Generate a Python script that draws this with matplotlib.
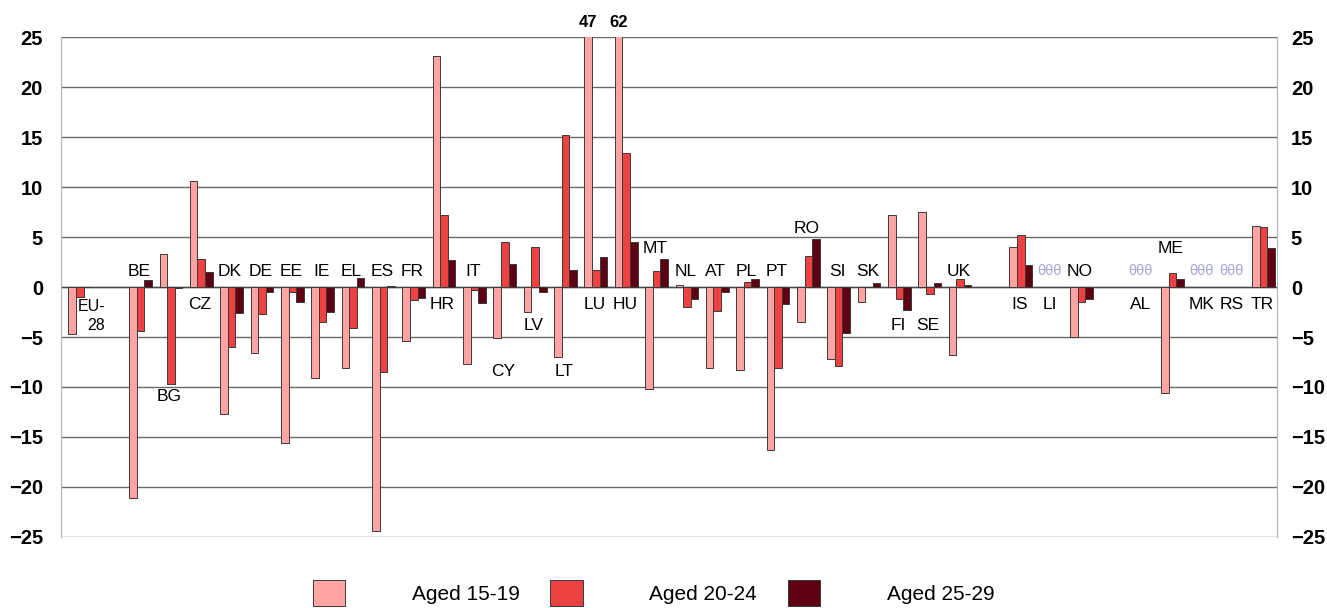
import numpy as np
import matplotlib
matplotlib.use("Agg")
import matplotlib.pyplot as plt
from matplotlib.patches import Patch

plt.rcParams['font.family'] = ['Liberation Sans', 'DejaVu Sans']

# slot index for each country (gaps at 1, 30, 34)
countries = ["EU-\n28", "BE", "BG", "CZ", "DK", "DE", "EE", "IE", "EL", "ES", "FR",
             "HR", "IT", "CY", "LV", "LT", "LU", "HU", "MT", "NL", "AT", "PL", "PT",
             "RO", "SI", "SK", "FI", "SE", "UK", "IS", "LI", "NO", "AL", "ME", "MK",
             "RS", "TR"]
slots = [0, 2, 3, 4, 5, 6, 7, 8, 9, 10, 11, 12, 13, 14, 15, 16, 17, 18, 19, 20, 21,
         22, 23, 24, 25, 26, 27, 28, 29, 31, 32, 33, 35, 36, 37, 38, 39]

nan = np.nan
aged_15_19 = [-4.7, -21.1, 3.3, 10.6, -12.7, -6.6, -15.6, -9.1, -8.1, -24.4, -5.4,
              23.1, -7.7, -5.1, -2.5, -7.0, 47, 62, -10.2, 0.2, -8.1, -8.3, -16.3,
              -3.5, -7.2, -1.5, 7.2, 7.5, -6.8, 4.0, nan, -5.0, nan, -10.6, nan,
              nan, 6.1]
aged_20_24 = [-1.0, -4.4, -9.7, 2.8, -6.0, -2.7, -0.5, -3.5, -4.1, -8.5, -1.3,
              7.2, -0.3, 4.5, 4.0, 15.2, 1.7, 13.4, 1.6, -2.0, -2.4, 0.5, -8.1,
              3.1, -7.9, 0.0, -1.2, -0.7, 0.8, 5.2, nan, -1.5, nan, 1.4, nan,
              nan, 6.0]
aged_25_29 = [0.0, 0.7, -0.1, 1.5, -2.6, -0.5, -1.5, -2.5, 0.9, 0.1, -1.1,
              2.7, -1.6, 2.3, -0.5, 1.7, 3.0, 4.5, 2.8, -1.2, -0.5, 0.8, -1.7,
              4.8, -4.6, 0.4, -2.3, 0.4, 0.2, 2.2, nan, -1.2, nan, 0.8, nan,
              nan, 3.9]

# where each country label sits (y in data units)
label_y = [-3.0, 1.6, -11.0, -1.7, 1.6, 1.6, 1.6, 1.6, 1.6, 1.6, 1.6,
           -1.7, 1.6, -8.5, -3.8, -8.5, -1.7, -1.7, 3.9, 1.6, 1.6, 1.6, 1.6,
           5.9, 1.6, 1.6, -3.85, -3.85, 1.6, -1.7, -1.7, 1.6, -1.7, 3.9, -1.7,
           -1.7, -1.7]
missing = ["LI", "AL", "MK", "RS"]

colors = ["#FFA3A3", "#EE4242", "#5E0012"]
series = [aged_15_19, aged_20_24, aged_25_29]
names = ["Aged 15-19", "Aged 20-24", "Aged 25-29"]

fig = plt.figure(figsize=(13.27, 6.08), dpi=100)
ax = fig.add_axes([0.046, 0.1168, 0.9163, 0.8223])

x = np.array(slots, dtype=float)
w = 0.25
for k, (vals, c) in enumerate(zip(series, colors)):
    ax.bar(x + (k - 1) * w, vals, width=w, color=c, edgecolor="#3a3a3a",
           linewidth=0.7, zorder=3)

ax.set_xlim(-0.62, 39.44)
ax.set_ylim(-25, 25)
ax.set_yticks(range(-25, 30, 5))
ax.set_xticks([])
ax.grid(axis="y", color="#6a6a6a", linewidth=1.0, zorder=0)
ax.set_axisbelow(True)
for s in ["top", "bottom"]:
    ax.spines[s].set_visible(False)
for s in ["left", "right"]:
    ax.spines[s].set_color("#aab4c4")
ax.axhline(0, color="#4a4a4a", linewidth=1.0, zorder=2)
ax.tick_params(axis="y", length=0, pad=13, labelsize=14.5)
for t in ax.get_yticklabels():
    t.set_fontweight("bold")

ax2 = ax.twinx()
ax2.set_ylim(-25, 25)
ax2.set_yticks(range(-25, 30, 5))
ax2.tick_params(axis="y", length=0, pad=10, labelsize=14.5)
for t in ax2.get_yticklabels():
    t.set_fontweight("bold")
for s in ax2.spines.values():
    s.set_visible(False)

for c, sl, ly in zip(countries, slots, label_y):
    xx = sl - 0.05
    if c.startswith("EU"):
        ax.text(sl + 0.37, -1.9, "EU-", ha="center", va="center", fontsize=11.5, zorder=5)
        ax.text(sl + 0.53, -3.8, "28", ha="center", va="center", fontsize=11.5, zorder=5)
        continue
    ax.text(xx, ly, c, ha="center", va="center", fontsize=12.5, zorder=5)
    if c in missing:
        ax.text(xx, 1.6, "θθθ", ha="center", va="center", fontsize=10.5,
                color="#a4a8d4", zorder=5)

# clipped bars get their values written above the frame
for vals in series:
    for sl, v in zip(slots, vals):
        if v == v and v > 25:
            ax.text(sl - w, 26.5, f"{v:g}", ha="center", va="center",
                    fontsize=12, fontweight="bold", clip_on=False, zorder=6,
                    bbox=dict(facecolor="white", edgecolor="none", pad=3))

handles = [Patch(facecolor=c, edgecolor="#3a3a3a", linewidth=0.7) for c in colors]
fig.legend(handles, names, loc="upper center", bbox_to_anchor=(0.4925, 0.077),
           ncol=3, frameon=False, fontsize=15, handlelength=1.55, handleheight=1.55,
           handletextpad=3.2, columnspacing=1.47)

fig.savefig("out.png", dpi=100)
